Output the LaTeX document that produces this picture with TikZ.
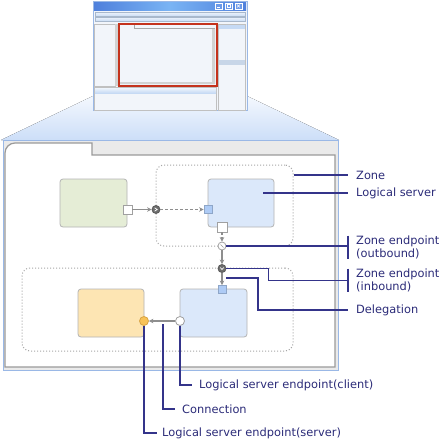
\documentclass[tikz,border=0pt]{standalone}
\usepackage{fontspec}
\setmainfont{DejaVu Sans}
\usetikzlibrary{arrows.meta,positioning}

\definecolor{navy}{HTML}{34348A}
\definecolor{navytext}{HTML}{2B2B78}
\definecolor{boxedge}{HTML}{B4B4B4}
\definecolor{zonegray}{HTML}{A6A6A6}
\definecolor{portedge}{HTML}{A0A0A0}
\definecolor{flowgray}{HTML}{8E8E8E}
\definecolor{greenfill}{HTML}{E5EDD6}
\definecolor{bluefill}{HTML}{DBE8FA}
\definecolor{orangefill}{HTML}{FDE5B3}
\definecolor{portblue}{HTML}{AECBF5}
\definecolor{portblueedge}{HTML}{8EA6C8}
\definecolor{beamtop}{HTML}{F4F8FE}
\definecolor{beamblue}{HTML}{CCDEF8}
\definecolor{winblue}{HTML}{9AB8E6}
\definecolor{panefill}{HTML}{F2F5FA}
\definecolor{titledark}{HTML}{4F80DC}
\definecolor{titlelight}{HTML}{7AB4F4}
\definecolor{btnblue}{HTML}{6D9AE8}
\definecolor{stripedge}{HTML}{A8B8CC}
\definecolor{striptop}{HTML}{EEF4FC}
\definecolor{stripbot}{HTML}{C6DAF4}
\definecolor{paneedge}{HTML}{C0C0C0}
\definecolor{scrollgray}{HTML}{D2D2D2}
\definecolor{headgray}{HTML}{C8D6E8}
\definecolor{tabline}{HTML}{A8A8A8}
\definecolor{selred}{HTML}{C4321C}
\definecolor{panelgray}{HTML}{EAEAEA}
\definecolor{docedge}{HTML}{9A9A9A}
\definecolor{dotfill}{HTML}{6E6E6E}
\definecolor{dotedge}{HTML}{5A5A5A}
\definecolor{srvfill}{HTML}{F7C257}
\definecolor{srvedge}{HTML}{D8A446}

\begin{document}
\begin{tikzpicture}[
  x=1pt, y=-1pt,
  >={Stealth[length=4.5pt,width=4.5pt]},
  box/.style={
    rectangle,
    rounded corners=3pt,
    draw=boxedge,
    line width=0.8pt,
    inner sep=0pt,
    minimum width=67pt,
    minimum height=48pt
  },
  zone/.style={
    rectangle,
    draw=zonegray,
    dotted,
    line width=1pt,
    rounded corners=8pt,
    inner sep=0pt
  },
  port/.style={rectangle, draw=portedge, line width=0.8pt, inner sep=0pt, minimum size=9pt},
  endpt/.style={circle, draw=portedge, line width=0.8pt, inner sep=0pt, minimum size=8pt},
  darkpt/.style={endpt, fill=dotfill, draw=dotedge, minimum size=8pt},
  flow/.style={draw=flowgray, line width=1.3pt, ->},
  callout/.style={draw=navy, line width=1.1pt},
  lbl/.style={
    anchor=west,
    align=left,
    inner sep=0pt,
    text=navytext,
    font=\fontsize{11.4}{13}\selectfont
  }
]
\useasboundingbox (0,0) rectangle (439,440);

% Beam from the window to the enlarged view
\fill[top color=beamtop, bottom color=beamblue] (93,96) -- (247,96) -- (339,140) -- (1,140) -- cycle;

% Application window
\draw[winblue, fill=panefill, line width=0.8pt] (93,1) rectangle (247,110);
\shade[left color=titledark, right color=titledark, middle color=titlelight] (94,2) rectangle (246,10);
\foreach \bx in {215,225,235}
  \draw[white, fill=btnblue, line width=0.5pt] (\bx,3) rectangle ++(7,6);
\draw[white, line width=0.6pt] (217,7.5) -- (220,7.5);
\draw[white, line width=0.5pt] (227,4.5) rectangle (230,7.5);
\draw[white, line width=0.6pt] (237,4.5) -- (240,7.5) (237,7.5) -- (240,4.5);
\foreach \ty in {12,17}
  \draw[stripedge, top color=striptop, bottom color=stripbot, line width=0.5pt] (95,\ty) rectangle (245,\ty+4.5);
\draw[paneedge, fill=panefill, line width=0.5pt] (94,24) rectangle (115,86);
\fill[scrollgray] (115,24) rectangle (118,86);
\draw[paneedge, fill=panefill, line width=0.5pt] (218,24) rectangle (245,110);
\fill[stripbot] (219,25) rectangle (245,29);
\fill[headgray] (219,60) rectangle (245,65);
\draw[paneedge, fill=panefill, line width=0.5pt] (94,87) rectangle (216,110);
\fill[top color=striptop, bottom color=stripbot] (95,88) rectangle (216,93);
\fill[panefill] (119,24) rectangle (217,86);
\draw[tabline, line width=0.5pt] (134,24) -- (134,28) -- (215,28);
\fill[scrollgray] (212,29) rectangle (215,84) (120,82) rectangle (212,84);
\draw[selred, line width=1.6pt] (119,24) rectangle (217,86);

% Enlarged view
\draw[winblue, fill=panelgray, line width=0.9pt] (3,140) rectangle (338,370);
\draw[docedge, fill=white, line width=1.2pt]
  (5,367) -- (5,153) arc[start angle=180, end angle=90, x radius=10, y radius=-10]
  -- (92,143) -- (92,155) -- (335,155) -- (335,367) -- cycle;

% Zones
\node[zone, minimum width=137pt, minimum height=81pt] (zoneA) at (224.5,205.5) {};
\node[zone, minimum width=271pt, minimum height=83pt] (zoneB) at (157.5,309.5) {};

% Logical servers
\node[box, fill=greenfill] (green) at (93.5,203) {};
\node[box, fill=bluefill, minimum width=66pt] (srvA) at (241,203) {};
\node[box, fill=orangefill, minimum width=66pt] (orange) at (111,313) {};
\node[box, fill=bluefill] (srvB) at (213.5,313) {};

% Endpoints
\node[port, fill=white] (portG) at (127.5,209.5) {};
\node[darkpt] (dlg) at (156,209.5) {};
\draw[white, line width=0.7pt] (154.6,207.8) -- (157.2,209.5) -- (154.6,211.2);
\node[port, fill=portblue, draw=portblueedge, minimum size=8pt] (portA) at (208,209.5) {};
\node[port, fill=white, minimum size=10pt] (portOut) at (222,227) {};
\node[endpt, fill=white] (outb) at (222,246) {};
\draw[docedge, line width=0.5pt] (220.5,244.5) -- (223.5,247.5);
\node[darkpt] (inb) at (222,268.5) {};
\draw[white, line width=0.7pt] (220.3,267.5) -- (222,269.5) -- (223.7,267.5);
\node[port, fill=portblue, draw=portblueedge, minimum size=8pt] (portB) at (222,289.5) {};
\node[endpt, fill=white, minimum size=9pt] (client) at (180,321) {};
\node[endpt, fill=srvfill, draw=srvedge, minimum size=9pt] (server) at (144,321) {};

% Flows
\draw[flow] (portG) -- (dlg);
\draw[flow, dashed, dash pattern=on 3pt off 2pt] (dlg) -- (portA);
\draw[flow, dashed, dash pattern=on 3pt off 2pt] (portOut) -- (outb);
\draw[flow] (outb) -- (inb);
\draw[flow] (inb) -- (portB);
\draw[flow] (client) -- (server);

% Labels
\node[lbl] (lblZone) at (356,175) {Zone};
\node[lbl] (lblSrv) at (356,193) {Logical server};
\node[lbl] (lblOut) at (356,247.5) {Zone endpoint\\(outbound)};
\node[lbl] (lblIn) at (356,280.5) {Zone endpoint\\(inbound)};
\node[lbl] (lblDel) at (356,310) {Delegation};
\node[lbl] (lblCli) at (199,385) {Logical server endpoint(client)};
\node[lbl] (lblConn) at (182,409) {Connection};
\node[lbl] (lblSep) at (162,433) {Logical server endpoint(server)};

% Callouts
\coordinate (deleg) at (226,278);
\coordinate (conn) at (163,324);
\draw[callout] (zoneA.east |- lblZone) -- ([xshift=-8pt]lblZone.west);
\draw[callout] ([xshift=-11pt]srvA.east |- lblSrv) -- ([xshift=-8pt]lblSrv.west);
\draw[callout] (outb.east) -- ([xshift=-8pt]lblOut.west |- outb.east);
\draw[callout] ([xshift=-8pt]lblOut.north west) -- ([xshift=-8pt]lblOut.south west);
\draw[callout] (inb.east) -- ++(42,0) |- ([xshift=-8pt]lblIn.west);
\draw[callout] ([xshift=-8pt]lblIn.north west) -- ([xshift=-8pt]lblIn.south west);
\draw[callout] (deleg) -- ++(32,0) |- ([xshift=-8pt]lblDel.west);
\draw[callout] (client.south) |- ([xshift=-7pt]lblCli.west);
\draw[callout] (conn) |- ([xshift=-7pt]lblConn.west);
\draw[callout] (server.south) |- ([xshift=-5pt]lblSep.west);

\end{tikzpicture}
\end{document}
